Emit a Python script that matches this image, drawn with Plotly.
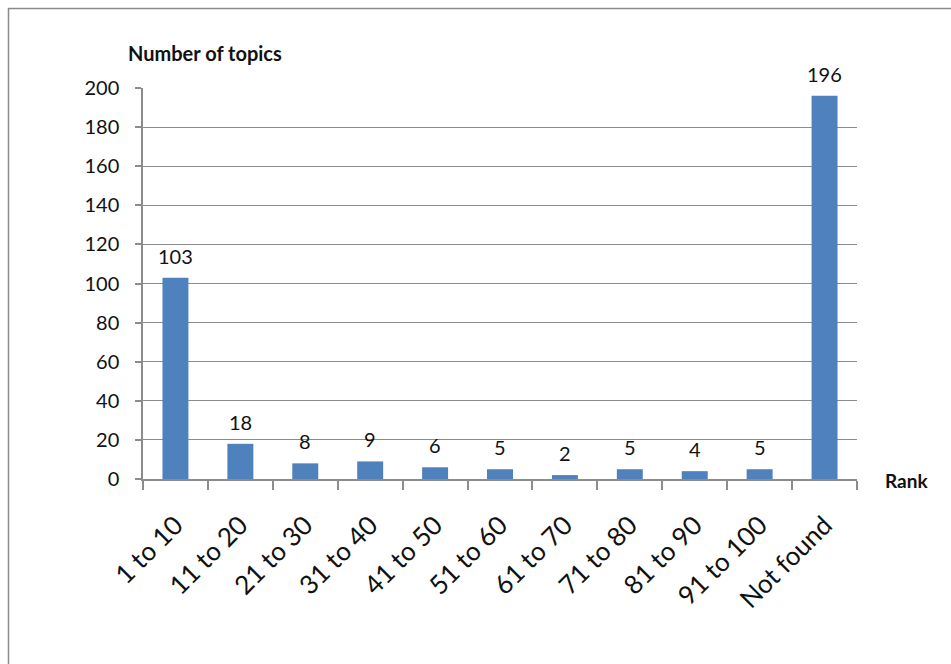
import plotly.graph_objects as go

categories = ["1 to 10", "11 to 20", "21 to 30", "31 to 40", "41 to 50", "51 to 60",
              "61 to 70", "71 to 80", "81 to 90", "91 to 100", "Not found"]
topics = [103, 18, 8, 9, 6, 5, 2, 5, 4, 5, 196]
y_ticks = list(range(0, 201, 20))

W, H = 951, 664
L, R, T, B = 143, 94, 88, 185
pw, ph = W - L - R, H - T - B
FONT = "Lato, Carlito, Calibri, sans-serif"

fig = go.Figure(go.Bar(
    x=categories, y=topics, marker_color="#4F81BD", marker_line_width=0,
    hoverinfo="x+y",
))

for c, v in zip(categories, topics):
    fig.add_annotation(x=c, y=v, text=str(v), showarrow=False, yanchor="bottom",
                       yshift=8, font=dict(size=20, color="#111111", family=FONT))

def px_x(p):
    return (p - L) / pw

def px_y(p):
    return 1 - (p - T) / ph

fig.add_annotation(xref="paper", yref="paper", x=px_x(205), y=px_y(53), text="<b>Number of topics</b>",
                   showarrow=False, xanchor="center", yanchor="middle",
                   font=dict(size=20, color="#111111", family=FONT))
fig.add_annotation(xref="paper", yref="paper", x=px_x(906), y=px_y(480), text="<b>Rank</b>",
                   showarrow=False, xanchor="center", yanchor="middle",
                   font=dict(size=19, color="#111111", family=FONT))

fig.add_shape(type="rect", xref="paper", yref="paper",
              x0=px_x(8.5), x1=px_x(1000), y0=px_y(700), y1=px_y(8.5),
              line=dict(color="#8a8a8a", width=1.5), fillcolor="rgba(0,0,0,0)", layer="below")

fig.update_layout(
    width=W, height=H, margin=dict(l=L, r=R, t=T, b=B),
    paper_bgcolor="white", plot_bgcolor="white", showlegend=False,
    bargap=0.6,
    font=dict(family=FONT, size=20, color="#111111"),
)
fig.update_xaxes(
    type="category", tickangle=-45, tickfont=dict(size=26),
    showline=True, linecolor="#8c8c8c", linewidth=1.5,
    ticks="outside", tickson="boundaries", ticklen=9, tickcolor="#8c8c8c", tickwidth=1.5,
    showgrid=False, ticklabelstandoff=19,
)
fig.update_yaxes(
    range=[0, 200], tickvals=y_ticks, ticktext=[str(t) for t in y_ticks],
    showline=True, linecolor="#8c8c8c", linewidth=1.5,
    ticks="outside", ticklen=6, tickcolor="#8c8c8c", tickwidth=1.5,
    showgrid=True, gridcolor="#8c8c8c", gridwidth=1.2, zeroline=False,
    tickfont=dict(size=20), ticklabelstandoff=12,
)

fig.write_html("out.html")
